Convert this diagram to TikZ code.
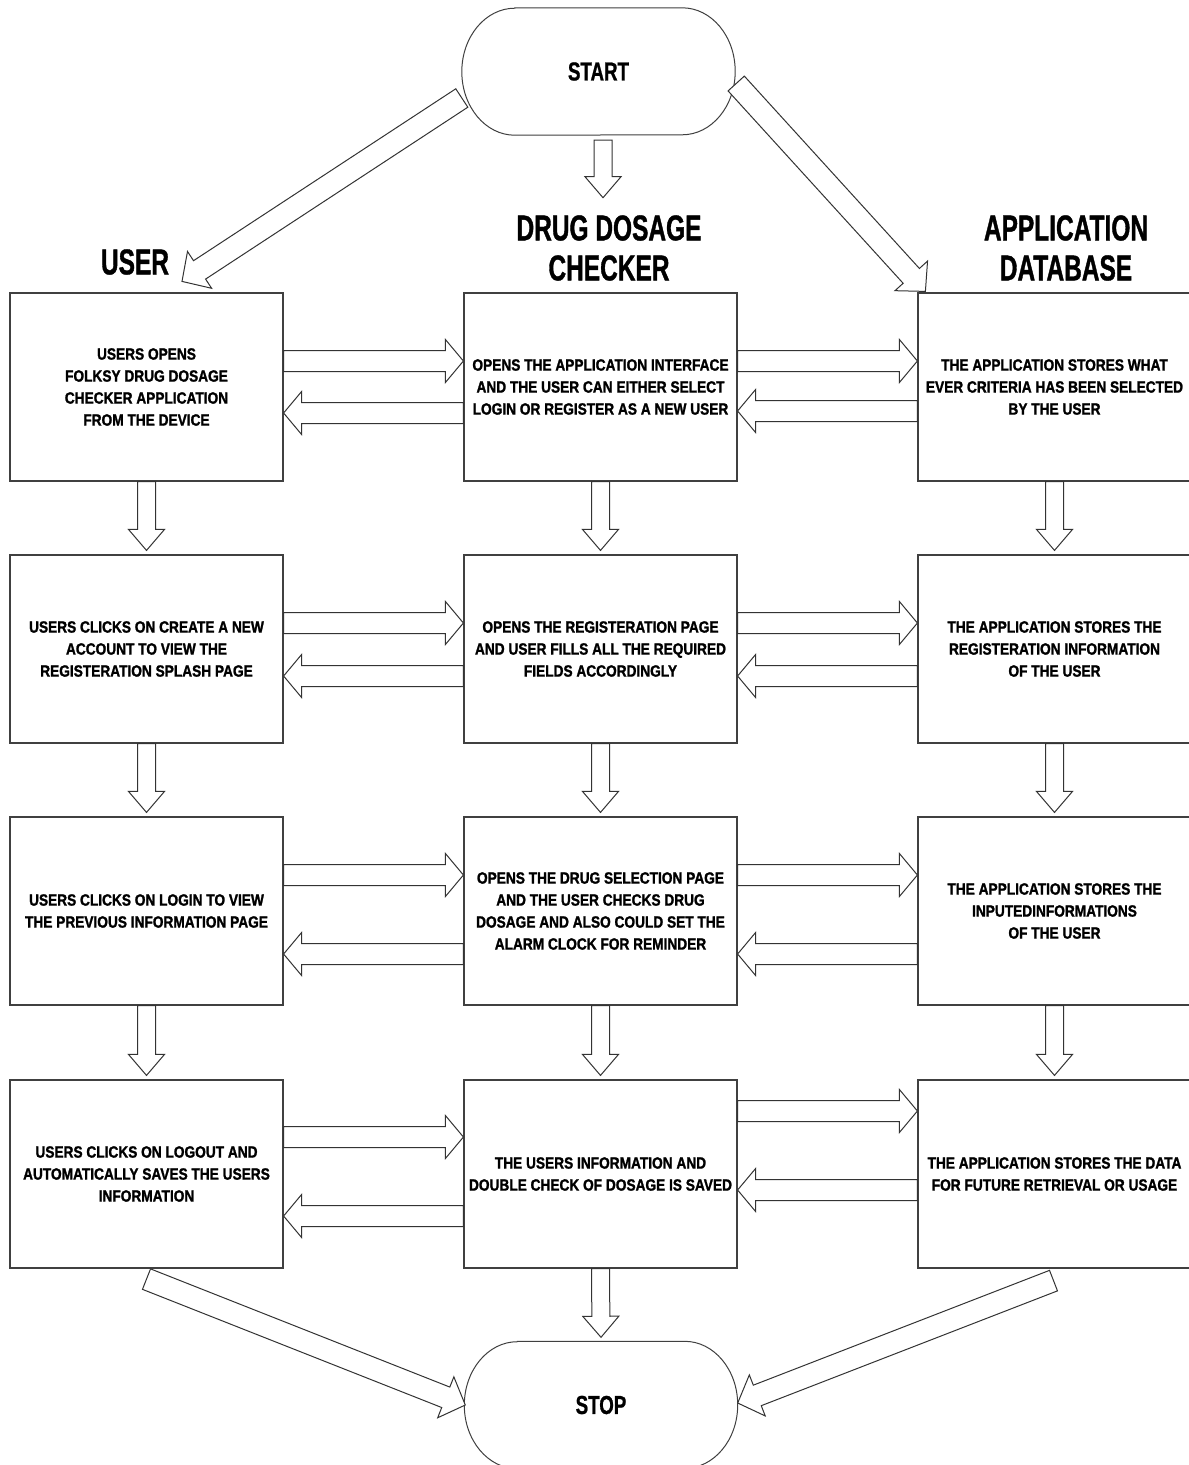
\documentclass[tikz,border=0pt]{standalone}
\usepackage{fontspec}
\setmainfont{Liberation Sans}
\newfontfamily\boxfont{Liberation Sans}[FakeStretch=0.84,FakeBold=1.4]
\newfontfamily\headfont{Liberation Sans}[FakeStretch=0.68,FakeBold=1]
\newfontfamily\termfont{Liberation Sans}[FakeStretch=0.72,FakeBold=0.8]
\usetikzlibrary{calc}

\tikzset{
  stepbox/.style={draw=black!75, line width=1.2pt, minimum width=273pt, minimum height=188pt,
    inner sep=0pt, align=center, font=\boxfont\bfseries\fontsize{16.3}{22}\selectfont},
  heading/.style={align=center, font=\headfont\bfseries\fontsize{36}{40}\selectfont},
  terminal/.style={minimum width=273pt, minimum height=127pt, inner sep=0pt,
    font=\termfont\bfseries\fontsize{26}{30}\selectfont},
  termline/.style={draw=black!75, line width=1pt},
  blk/.style={draw=black!80, line width=1pt, fill=white, line join=miter},
}

% block arrow: #1 tail, #2 tip (calc expressions), #3 shaft half width, #4 head half width, #5 head length
\newcommand\bkarrow[5]{%
  \coordinate (bkA) at ($#1$);
  \coordinate (bkB) at ($#2$);
  \coordinate (bkN) at ($(bkB)!#5!(bkA)$);
  \draw[blk] ($(bkA)!#3!90:(bkB)$) -- ($(bkN)!#3!-90:(bkA)$) -- ($(bkN)!#4!-90:(bkA)$)
    -- (bkB) -- ($(bkN)!#4!90:(bkA)$) -- ($(bkN)!#3!90:(bkA)$) -- ($(bkA)!#3!-90:(bkB)$) -- cycle;
}
\newcommand\hrarrow[2]{\bkarrow{#1}{#2}{10.5pt}{21.5pt}{18pt}}
\newcommand\vdarrow[2]{\bkarrow{#1}{#2}{9pt}{18pt}{21pt}}
\newcommand\dgarrow[2]{\bkarrow{#1}{#2}{11pt}{22pt}{21pt}}
\newcommand\terminalshape[1]{%
  \draw[termline] ($(#1.north west)+(53,0)$) -- ($(#1.north east)+(-53,0)$)
    arc[start angle=90,end angle=-90,x radius=53pt,y radius=63.5pt]
    -- ($(#1.south west)+(53,0)$)
    arc[start angle=270,end angle=90,x radius=53pt,y radius=63.5pt] -- cycle;
}

\begin{document}
\begin{tikzpicture}[x=1pt,y=-1pt]
\useasboundingbox (0,0) rectangle (1189,1465);
\fill[white] (0,0) rectangle (1189,1465);

% terminals
\node[terminal] (start) at (598.5,71.5) {START};
\terminalshape{start}
\node[terminal] (stop) at (601,1405) {STOP};
\terminalshape{stop}

% headings
\node[heading] (hu) at (135,262) {USER};
\node[heading] (hd) at (609,248) {DRUG DOSAGE\\CHECKER};
\node[heading] (ha) at (1066,248) {APPLICATION\\DATABASE};

% row 1
\node[stepbox] (u1) at (146.5,387) {USERS OPENS\\FOLKSY DRUG DOSAGE\\CHECKER APPLICATION\\FROM THE DEVICE};
\node[stepbox] (d1) at (600.5,387) {OPENS THE APPLICATION INTERFACE\\AND THE USER CAN EITHER SELECT\\LOGIN OR REGISTER AS A NEW USER};
\node[stepbox] (a1) at (1054.5,387) {THE APPLICATION STORES WHAT\\EVER CRITERIA HAS BEEN SELECTED\\BY THE USER};
% row 2
\node[stepbox] (u2) at (146.5,649) {USERS CLICKS ON CREATE A NEW\\ACCOUNT TO VIEW THE\\REGISTERATION SPLASH PAGE};
\node[stepbox] (d2) at (600.5,649) {OPENS THE REGISTERATION PAGE\\AND USER FILLS ALL THE REQUIRED\\FIELDS ACCORDINGLY};
\node[stepbox] (a2) at (1054.5,649) {THE APPLICATION STORES THE\\REGISTERATION INFORMATION\\OF THE USER};
% row 3
\node[stepbox] (u3) at (146.5,911) {USERS CLICKS ON LOGIN TO VIEW\\THE PREVIOUS INFORMATION PAGE};
\node[stepbox] (d3) at (600.5,911) {OPENS THE DRUG SELECTION PAGE\\AND THE USER CHECKS DRUG\\DOSAGE AND ALSO COULD SET THE\\ALARM CLOCK FOR REMINDER};
\node[stepbox] (a3) at (1054.5,911) {THE APPLICATION STORES THE\\INPUTEDINFORMATIONS\\OF THE USER};
% row 4
\node[stepbox] (u4) at (146.5,1174) {USERS CLICKS ON LOGOUT AND\\AUTOMATICALLY SAVES THE USERS\\INFORMATION};
\node[stepbox] (d4) at (600.5,1174) {THE USERS INFORMATION AND\\DOUBLE CHECK OF DOSAGE IS SAVED};
\node[stepbox] (a4) at (1054.5,1174) {THE APPLICATION STORES THE DATA\\FOR FUTURE RETRIEVAL OR USAGE};

% start arrows
\dgarrow{(start.west)+(0,26.5)}{(u1.north)+(35.5,-11)}
\vdarrow{(start.south)+(4.5,5)}{(hd.north)+(-6,-14)}
\dgarrow{(start.east)+(1,12)}{(a1.north west)+(8,-1)}

% vertical arrows
\foreach \c in {u,d,a}{
  \vdarrow{(\c1.south)}{(\c2.north)+(0,-4)}
  \vdarrow{(\c2.south)}{(\c3.north)+(0,-4)}
  \vdarrow{(\c3.south)}{(\c4.north)+(0,-4)}
}

% horizontal arrows
\hrarrow{(u1.east)+(0,-26)}{(d1.west)+(0,-26)}
\hrarrow{(d1.west)+(0,26)}{(u1.east)+(0,26)}
\hrarrow{(d1.east)+(0,-26)}{(a1.west)+(0,-26)}
\hrarrow{(a1.west)+(0,24)}{(d1.east)+(0,24)}

\hrarrow{(u2.east)+(0,-26)}{(d2.west)+(0,-26)}
\hrarrow{(d2.west)+(0,27)}{(u2.east)+(0,27)}
\hrarrow{(d2.east)+(0,-26)}{(a2.west)+(0,-26)}
\hrarrow{(a2.west)+(0,27)}{(d2.east)+(0,27)}

\hrarrow{(u3.east)+(0,-36)}{(d3.west)+(0,-36)}
\hrarrow{(d3.west)+(0,43)}{(u3.east)+(0,43)}
\hrarrow{(d3.east)+(0,-36)}{(a3.west)+(0,-36)}
\hrarrow{(a3.west)+(0,43)}{(d3.east)+(0,43)}

\hrarrow{(u4.east)+(0,-37)}{(d4.west)+(0,-37)}
\hrarrow{(d4.west)+(0,42)}{(u4.east)+(0,42)}
\hrarrow{(d4.east)+(0,-63)}{(a4.west)+(0,-63)}
\hrarrow{(a4.west)+(0,16)}{(d4.east)+(0,16)}

% to stop
\dgarrow{(u4.south)+(0,10.5)}{(stop.west)+(1,0)}
\vdarrow{(d4.south)}{(stop.north)+(0,-4)}
\dgarrow{(a4.south)+(-1,12)}{(stop.east)+(0,-2)}
\end{tikzpicture}
\end{document}
